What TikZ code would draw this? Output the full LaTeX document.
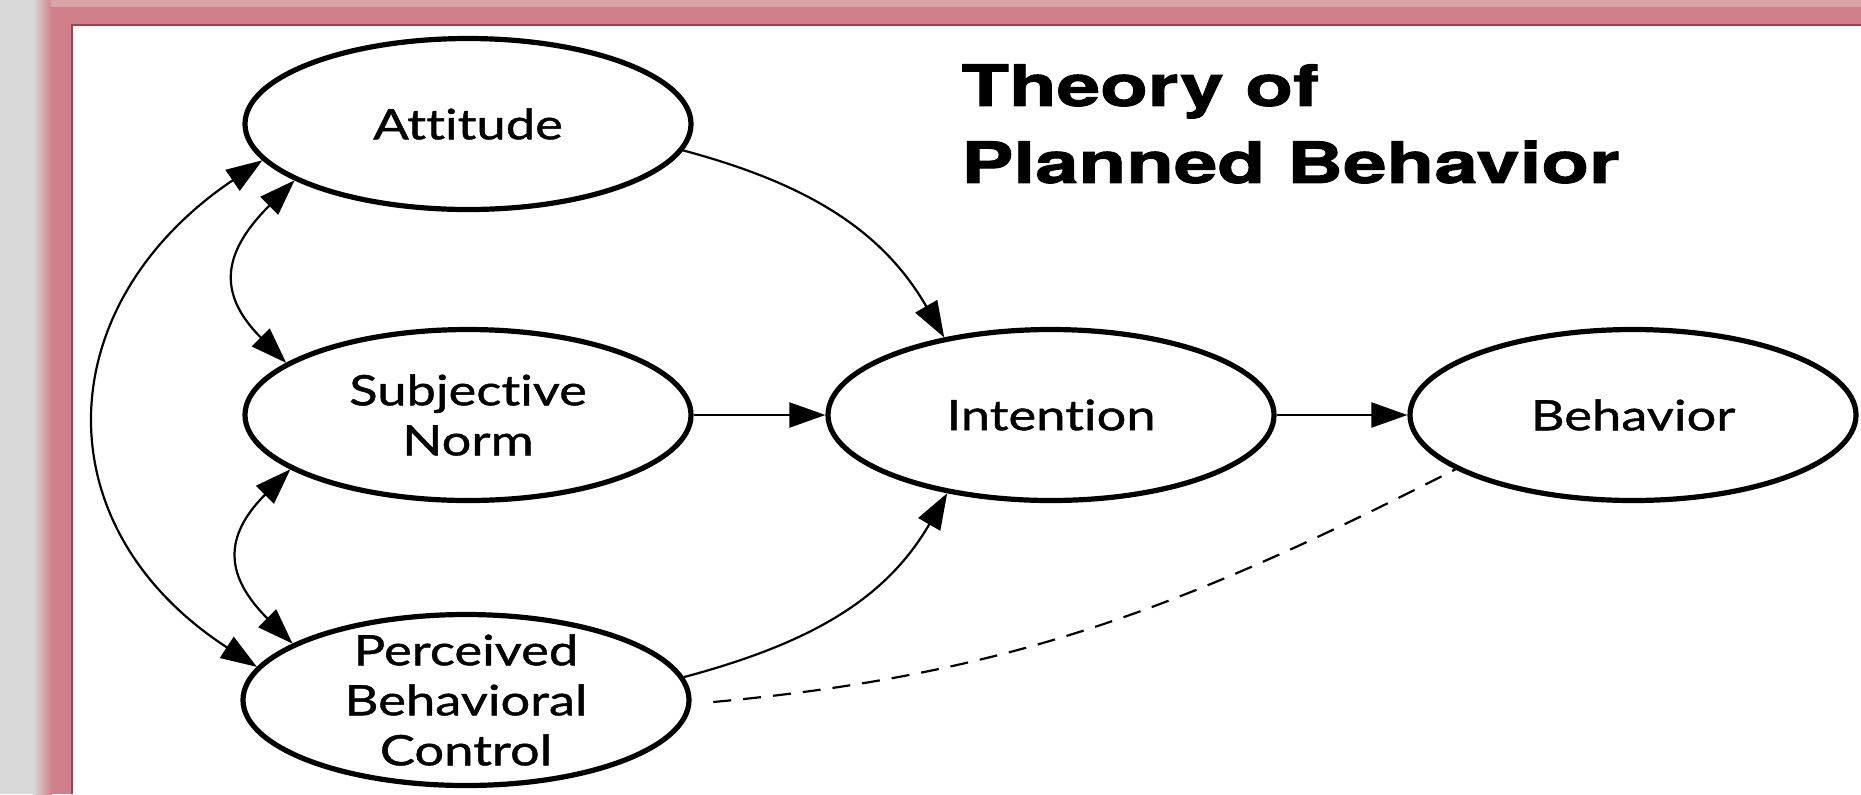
\documentclass[tikz,border=0pt]{standalone}
\usepackage{fontspec}
\newfontfamily\labelfont[FakeStretch=1.25,FakeBold=1,Ligatures=NoCommon]{Lato}
\newfontfamily\titlefont[FakeStretch=1.37,BoldFeatures={FakeBold=1.6}]{TeX Gyre Heros}
\usetikzlibrary{arrows.meta,shapes.geometric}
\definecolor{bggray}{HTML}{D9D9D9}
\definecolor{framepink}{HTML}{D0808A}
\definecolor{framelight}{HTML}{D6A4A9}
\definecolor{framedark}{HTML}{9E4050}

\begin{document}
\begin{tikzpicture}[>={Triangle[length=18pt,width=12.5pt]},x=0.5pt,y=0.5pt]
\tikzstyle{construct}=[draw,ellipse,line width=2.6pt,inner sep=0pt,minimum width=223pt,minimum height=85.5pt,align=center,font=\labelfont\fontsize{21}{25}\selectfont]%
\tikzstyle{link}=[line width=1.1pt]%
\useasboundingbox (0,0) rectangle (1861,-794);
% frame
\fill[bggray] (0,0) rectangle (1861,-794);
\shade[left color=bggray,right color=framepink] (33,0) rectangle (52,-794);
\fill[framepink] (51,0) rectangle (1861,-794);
\fill[framelight] (51,0) rectangle (1861,-7);
\fill[framedark] (71,-24) rectangle (1861,-794);
\fill[white] (73,-26) rectangle (1861,-794);
% constructs
\node[construct] (att) at (468,-124) {Attitude};
\node[construct] (norm) at (468,-415) {Subjective\\Norm};
\node[construct,inner ysep=-8pt] (pbc) at (466,-700) {Perceived\\Behavioral\\Control};
\node[construct] (int) at (1051,-415) {Intention};
\node[construct] (beh) at (1633,-415) {Behavior};
% title
\node[anchor=north west,inner sep=0pt,align=left,font=\titlefont\bfseries\fontsize{28.5}{38.5}\selectfont] (title) at (961,-64) {Theory of\\Planned Behavior};
% paths
\draw[link,->] (att.-7) to[out=-15,in=120] (int.144);
\draw[link,->] (norm) -- (int);
\draw[link,->] (int) -- (beh);
\draw[link,->] (pbc.6) to[out=15,in=-120] (int.217);
\draw[link,dash pattern=on 9pt off 6pt,dash phase=9pt,shorten <=5pt] (pbc.-1) to[out=5,in=-153] (beh.197);
% correlations
\draw[link,<->] (att.198) to[out=225,in=135,looseness=1.4] (norm.164);
\draw[link,<->] (norm.197) to[out=225,in=135,looseness=1.4] (pbc.162);
\draw[link,<->] (att.190) to[out=214,in=147,looseness=1.3] (pbc.171);
\end{tikzpicture}
\end{document}
